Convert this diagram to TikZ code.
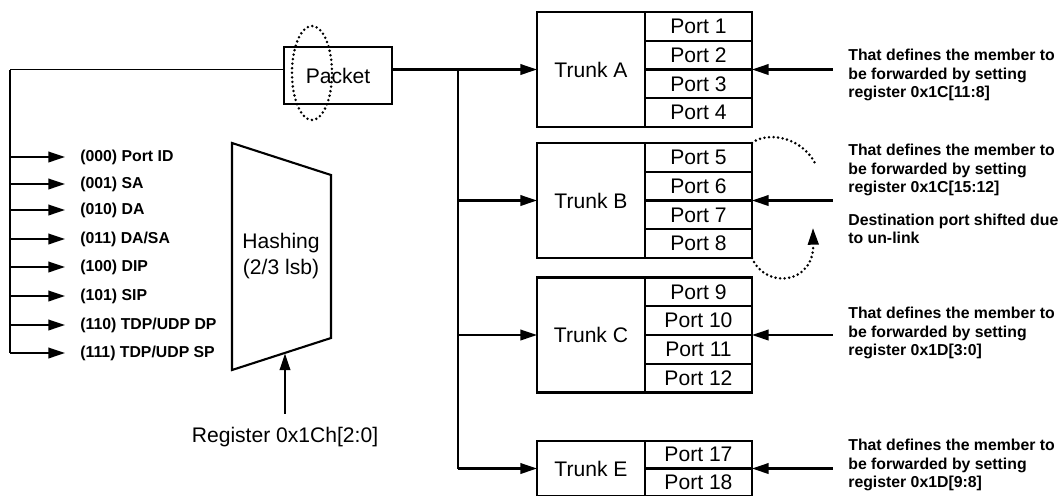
\documentclass[tikz,border=0pt]{standalone}
\usepackage{fontspec}
\setmainfont{Liberation Sans}
\usetikzlibrary{positioning,arrows.meta}
\tikzset{
  wire/.style={line width=1.2pt},
  arr/.style={line width=1.2pt,-{Triangle[length=9.5pt,width=6pt]}},
  dotline/.style={line width=1.6pt,dash pattern=on 0pt off 2.6pt,line cap=round},
  trunkbox/.style={draw,line width=1.2pt,minimum width=2.16cm,minimum height=2.3cm,inner sep=0pt,outer sep=0pt,font=\fontsize{12}{14}\selectfont},
  portbox/.style={draw,line width=1.2pt,minimum width=2.14cm,minimum height=0.575cm,inner sep=0pt,outer sep=0pt,font=\fontsize{12}{14}\selectfont},
  field/.style={anchor=west,inner sep=0pt,font=\fontsize{9}{11}\selectfont\bfseries},
  note/.style={anchor=west,inner sep=0pt,align=left,font=\fontsize{9}{10.4}\selectfont\bfseries},
}
\begin{document}
\begin{tikzpicture}[x=0.02cm,y=0.02cm,yscale=-1]
  \useasboundingbox (0,0) rectangle (1062,495);

  % trunks with four ports each
  \foreach \t/\y/\n in {A/69.5/1,B/200.5/5,C/335/9}{
    \node[trunkbox] (trunk\t) at (591,\y) {Trunk \t};
    \node[portbox,anchor=north west] (port\n) at (trunk\t.north east) {Port \n};
    \foreach \k in {1,2,3}{
      \pgfmathtruncatemacro\prev{\n+\k-1}
      \pgfmathtruncatemacro\cur{\n+\k}
      \node[portbox,below=0pt of port\prev] (port\cur) {Port \cur};
    }
  }
  \node[trunkbox,minimum height=1.1cm] (trunkE) at (591,468.5) {Trunk E};
  \node[portbox,minimum height=0.55cm,anchor=north west] (port17) at (trunkE.north east) {Port 17};
  \node[portbox,minimum height=0.55cm,below=0pt of port17] (port18) {Port 18};

  % packet path
  \node[draw,line width=1.2pt,minimum width=2.16cm,minimum height=1.14cm,font=\fontsize{12}{14}\selectfont] (packet) at (338,75.5) {Packet};
  \coordinate (src) at (10,69.5);
  \draw[line width=0.7pt] (src) -- (packet.west |- trunkA.west);
  \draw[arr] (packet.east |- trunkA.west) -- (trunkA.west);
  \coordinate (split) at (458,69.5);
  \draw[wire] (split) -- (split |- trunkE.west);
  \foreach \t in {B,C,E} \draw[arr] (split |- trunk\t.west) -- (trunk\t.west);
  \draw[dotline] (312,73) ellipse [x radius=0.4cm,y radius=0.94cm];

  % hash fields
  \foreach \i/\y/\txt in {0/157/{(000) Port ID},1/184/{(001) SA},2/210/{(010) DA},3/239/{(011) DA/SA},
      4/267/{(100) DIP},5/296/{(101) SIP},6/325/{(110) TDP/UDP DP},7/353/{(111) TDP/UDP SP}}{
    \node[field] (f\i) at (80,\y) {\txt};
    \draw[arr] (src |- f\i.west) -- ([xshift=-0.3cm]f\i.west);
  }
  \draw[wire] (src) -- (src |- f7.west);

  % hashing block
  \draw[wire] (232,143) -- (331,175) -- (331,338) -- (232,370) -- cycle;
  \node[align=center,font=\fontsize{12}{15.3}\selectfont] (hash) at (281,256) {Hashing\\(2/3 lsb)};
  \coordinate (hashin) at (285,353.5);
  \node[font=\fontsize{12}{14}\selectfont] (reg) at (285,437) {Register 0x1Ch[2:0]};
  \draw[arr] ([yshift=-4pt]reg.north) -- (hashin);

  % notes on the right
  \node[note] (noteA) at (848,75) {That defines the member to\\be forwarded by setting\\register 0x1C[11:8]};
  \node[note] (noteB) at (848,170) {That defines the member to\\be forwarded by setting\\register 0x1C[15:12]};
  \node[note] (noteShift) at (848,229) {Destination port shifted due\\to un-link};
  \node[note] (noteC) at (848,333) {That defines the member to\\be forwarded by setting\\register 0x1D[3:0]};
  \node[note] (noteE) at (848,465) {That defines the member to\\be forwarded by setting\\register 0x1D[9:8]};
  \foreach \p in {2,6,10,17}{
    \coordinate (set\p) at ([xshift=1.62cm]port\p.south east);
    \draw[arr] (set\p) -- (port\p.south east);
  }

  % un-link shift
  \coordinate (shiftend) at (815,163);
  \coordinate (shifttip) at (813,228);
  \draw[dotline] (port5.north east) .. controls (765,132) and (800,135) .. (shiftend);
  \draw[dotline,-{Triangle[length=9.5pt,width=6pt]}] (port8.south east) .. controls (766,290) and (814,284) .. (shifttip);
\end{tikzpicture}
\end{document}
